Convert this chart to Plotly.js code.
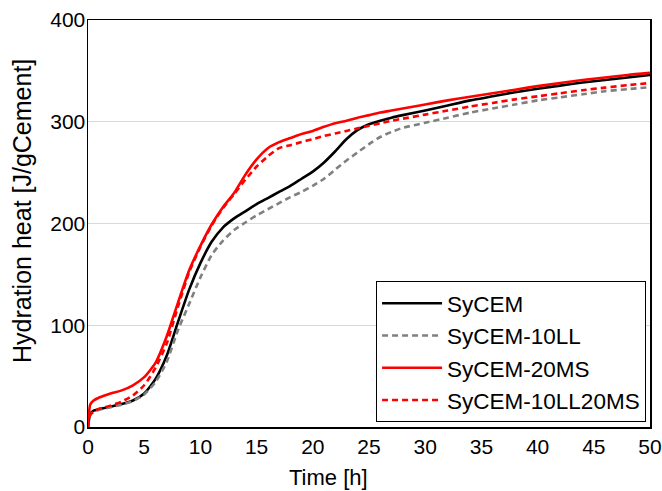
<!DOCTYPE html>
<html>
<head>
<meta charset="utf-8">
<script src="https://cdn.plot.ly/plotly-3.0.1.min.js"></script>
<style>html,body{margin:0;padding:0;background:#fff;}#chart{width:662px;height:491px;}</style>
</head>
<body>
<div id="chart"></div>
<script>
const time = [0, 0.2, 0.5, 1, 2, 3, 4, 5, 6, 7, 8, 9, 10, 11, 12, 13, 14, 15, 16, 17, 18, 19, 20, 21, 22, 23, 24, 25, 26, 27, 28, 30, 32, 34, 36, 38, 40, 42, 44, 46, 48, 50];
const sycem = [0, 13, 16, 17.5, 20, 22.5, 26, 33, 47, 70, 103, 135, 161, 182, 196, 205, 212, 219, 225, 231, 237, 244, 251, 260, 271, 283, 292, 297.5, 301, 304, 306.5, 311, 316, 321, 325, 329, 332.5, 335.5, 338.5, 341, 343.5, 346];
const sycem10LL = [0, 12, 15, 17, 19.5, 22, 25.5, 32, 44, 64, 95, 121, 147, 169, 183, 193.5, 201, 208, 214, 220, 226, 231, 237, 244, 253, 262, 270, 278, 285, 290, 294, 299, 304, 309, 313, 317, 321, 324, 327, 330, 332, 334];
const sycem20MS = [0, 22, 26, 29, 33, 36, 41, 49, 63, 89, 122, 154, 178, 199, 216, 230, 248, 263, 274, 280, 284, 288, 291, 295, 298.5, 301, 304, 306.5, 309, 311, 313, 317, 321, 324.5, 328, 331.5, 335, 338, 341, 343.5, 346, 348];
const sycem10LL20MS = [0, 12, 15, 18, 21, 25, 31, 41, 58, 82, 118, 152, 177, 198, 215, 229, 243, 256, 266, 274, 277, 280, 283, 286, 288.5, 291, 293.5, 296, 298.5, 301, 303, 307, 311, 315, 318.5, 322, 325, 328, 331, 333.5, 336, 338];
const seriesNames = ['SyCEM', 'SyCEM-10LL', 'SyCEM-20MS', 'SyCEM-10LL20MS'];
const xTicks = [0, 5, 10, 15, 20, 25, 30, 35, 40, 45, 50];
const yTicks = [0, 100, 200, 300, 400];
const xTitle = 'Time [h]';
const yTitle = 'Hydration heat [J/gCement]';

const styles = [
  {color: '#000000', dash: 'solid'},
  {color: '#808080', dash: '6px,4px'},
  {color: '#ff0000', dash: 'solid'},
  {color: '#ff0000', dash: '6px,4px'}
];
const values = [sycem, sycem10LL, sycem20MS, sycem10LL20MS];
const data = values.map((v, i) => ({
  x: time, y: v, name: seriesNames[i], type: 'scatter', mode: 'lines',
  line: {color: styles[i].color, dash: styles[i].dash, width: 2.6, shape: 'spline', smoothing: 0.6}
}));

const fam = 'Liberation Sans, Arial, sans-serif';
const layout = {
  width: 662, height: 491,
  margin: {l: 88, r: 12, t: 20, b: 64},
  paper_bgcolor: '#fff', plot_bgcolor: '#fff',
  font: {family: fam, size: 21, color: '#000'},
  showlegend: true,
  legend: {
    x: 0.993, y: 0.012, xanchor: 'right', yanchor: 'bottom',
    bgcolor: '#fff', bordercolor: '#000', borderwidth: 1,
    font: {family: fam, size: 22.5, color: '#000'},
    tracegroupgap: 0, itemwidth: 60
  },
  xaxis: {
    range: [0, 50], tickvals: xTicks, ticktext: xTicks.map(String),
    showgrid: false, zeroline: false, showline: true, mirror: true,
    linecolor: '#000', linewidth: 1.5, ticks: '',
    tickfont: {family: fam, size: 21, color: '#000'}
  },
  yaxis: {
    range: [0, 400], tickvals: yTicks, ticktext: yTicks.map(String),
    showgrid: true, gridcolor: '#d9d9d9', gridwidth: 1,
    zeroline: false, showline: true, mirror: true,
    linecolor: '#000', linewidth: 1.5, ticks: '', ticklabelstandoff: -3,
    tickfont: {family: fam, size: 21, color: '#000'}
  },
  annotations: [
    {text: xTitle, xref: 'paper', yref: 'paper', x: 0.4288, y: -0.1229,
     xanchor: 'center', yanchor: 'middle', showarrow: false,
     font: {family: fam, size: 22, color: '#000'}},
    {text: yTitle, xref: 'paper', yref: 'paper', x: -0.1174, y: 0.5307,
     xanchor: 'center', yanchor: 'middle', textangle: -90, showarrow: false,
     font: {family: fam, size: 25, color: '#000'}}
  ]
};
Plotly.newPlot('chart', data, layout, {displayModeBar: false, staticPlot: true});
</script>
</body>
</html>
